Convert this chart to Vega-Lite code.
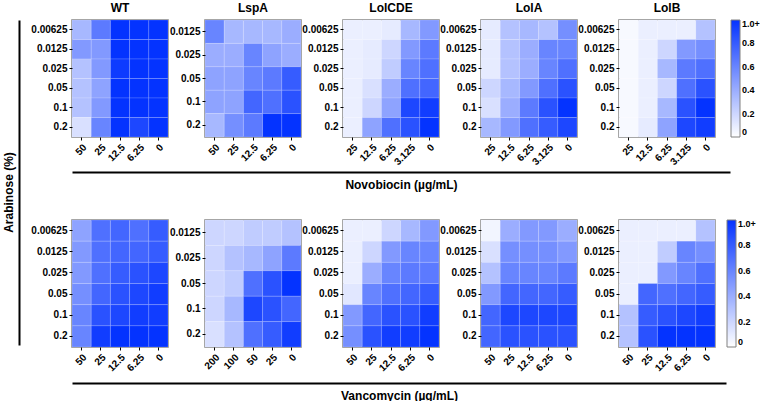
{
  "$schema": "https://vega.github.io/schema/vega-lite/v6.json",
  "padding": {"left": 2, "top": 1, "right": 0, "bottom": 0},
  "background": "white",
  "config": {
    "font": "Liberation Sans",
    "view": {"stroke": "#808080", "strokeWidth": 1.5},
    "title": {"font": "Liberation Sans", "fontSize": 12, "fontWeight": "bold", "color": "black", "offset": 5},
    "axis": {"labelFont": "Liberation Sans", "labelFontWeight": "bold", "labelFontSize": 10, "labelColor": "black", "tickColor": "black", "tickSize": 3, "domain": false, "grid": false, "labelPadding": 2, "titleFont": "Liberation Sans", "titleColor": "black"},
    "axisX": {"labelAngle": -45},
    "legend": {"gradientThickness": 9, "labelFont": "Liberation Sans", "labelFontSize": 9, "labelFontWeight": "bold", "labelColor": "black", "labelBaseline": "middle", "labelOffset": 3, "gradientStrokeColor": "#808080", "gradientStrokeWidth": 1, "padding": 0, "offset": 1, "titlePadding": 0}
  },
  "datasets": {
    "d": [
      {"strain":"WT","drug":"Novobiocin","arabinose":"0.00625","conc":"50","value":0.35},
      {"strain":"WT","drug":"Novobiocin","arabinose":"0.00625","conc":"25","value":0.65},
      {"strain":"WT","drug":"Novobiocin","arabinose":"0.00625","conc":"12.5","value":1.0},
      {"strain":"WT","drug":"Novobiocin","arabinose":"0.00625","conc":"6.25","value":1.0},
      {"strain":"WT","drug":"Novobiocin","arabinose":"0.00625","conc":"0","value":1.0},
      {"strain":"WT","drug":"Novobiocin","arabinose":"0.0125","conc":"50","value":0.5},
      {"strain":"WT","drug":"Novobiocin","arabinose":"0.0125","conc":"25","value":0.5},
      {"strain":"WT","drug":"Novobiocin","arabinose":"0.0125","conc":"12.5","value":1.0},
      {"strain":"WT","drug":"Novobiocin","arabinose":"0.0125","conc":"6.25","value":1.0},
      {"strain":"WT","drug":"Novobiocin","arabinose":"0.0125","conc":"0","value":1.0},
      {"strain":"WT","drug":"Novobiocin","arabinose":"0.025","conc":"50","value":0.3},
      {"strain":"WT","drug":"Novobiocin","arabinose":"0.025","conc":"25","value":0.5},
      {"strain":"WT","drug":"Novobiocin","arabinose":"0.025","conc":"12.5","value":0.96},
      {"strain":"WT","drug":"Novobiocin","arabinose":"0.025","conc":"6.25","value":1.0},
      {"strain":"WT","drug":"Novobiocin","arabinose":"0.025","conc":"0","value":1.0},
      {"strain":"WT","drug":"Novobiocin","arabinose":"0.05","conc":"50","value":0.3},
      {"strain":"WT","drug":"Novobiocin","arabinose":"0.05","conc":"25","value":0.45},
      {"strain":"WT","drug":"Novobiocin","arabinose":"0.05","conc":"12.5","value":1.0},
      {"strain":"WT","drug":"Novobiocin","arabinose":"0.05","conc":"6.25","value":1.0},
      {"strain":"WT","drug":"Novobiocin","arabinose":"0.05","conc":"0","value":1.0},
      {"strain":"WT","drug":"Novobiocin","arabinose":"0.1","conc":"50","value":0.3},
      {"strain":"WT","drug":"Novobiocin","arabinose":"0.1","conc":"25","value":0.5},
      {"strain":"WT","drug":"Novobiocin","arabinose":"0.1","conc":"12.5","value":1.0},
      {"strain":"WT","drug":"Novobiocin","arabinose":"0.1","conc":"6.25","value":1.0},
      {"strain":"WT","drug":"Novobiocin","arabinose":"0.1","conc":"0","value":1.0},
      {"strain":"WT","drug":"Novobiocin","arabinose":"0.2","conc":"50","value":0.15},
      {"strain":"WT","drug":"Novobiocin","arabinose":"0.2","conc":"25","value":0.6},
      {"strain":"WT","drug":"Novobiocin","arabinose":"0.2","conc":"12.5","value":1.0},
      {"strain":"WT","drug":"Novobiocin","arabinose":"0.2","conc":"6.25","value":0.9},
      {"strain":"WT","drug":"Novobiocin","arabinose":"0.2","conc":"0","value":1.0},

      {"strain":"LspA","drug":"Novobiocin","arabinose":"0.0125","conc":"50","value":0.6},
      {"strain":"LspA","drug":"Novobiocin","arabinose":"0.0125","conc":"25","value":0.35},
      {"strain":"LspA","drug":"Novobiocin","arabinose":"0.0125","conc":"12.5","value":0.35},
      {"strain":"LspA","drug":"Novobiocin","arabinose":"0.0125","conc":"6.25","value":0.35},
      {"strain":"LspA","drug":"Novobiocin","arabinose":"0.0125","conc":"0","value":0.4},
      {"strain":"LspA","drug":"Novobiocin","arabinose":"0.025","conc":"50","value":0.4},
      {"strain":"LspA","drug":"Novobiocin","arabinose":"0.025","conc":"25","value":0.4},
      {"strain":"LspA","drug":"Novobiocin","arabinose":"0.025","conc":"12.5","value":0.6},
      {"strain":"LspA","drug":"Novobiocin","arabinose":"0.025","conc":"6.25","value":0.45},
      {"strain":"LspA","drug":"Novobiocin","arabinose":"0.025","conc":"0","value":0.4},
      {"strain":"LspA","drug":"Novobiocin","arabinose":"0.05","conc":"50","value":0.45},
      {"strain":"LspA","drug":"Novobiocin","arabinose":"0.05","conc":"25","value":0.45},
      {"strain":"LspA","drug":"Novobiocin","arabinose":"0.05","conc":"12.5","value":0.6},
      {"strain":"LspA","drug":"Novobiocin","arabinose":"0.05","conc":"6.25","value":0.65},
      {"strain":"LspA","drug":"Novobiocin","arabinose":"0.05","conc":"0","value":0.8},
      {"strain":"LspA","drug":"Novobiocin","arabinose":"0.1","conc":"50","value":0.45},
      {"strain":"LspA","drug":"Novobiocin","arabinose":"0.1","conc":"25","value":0.45},
      {"strain":"LspA","drug":"Novobiocin","arabinose":"0.1","conc":"12.5","value":0.75},
      {"strain":"LspA","drug":"Novobiocin","arabinose":"0.1","conc":"6.25","value":0.7},
      {"strain":"LspA","drug":"Novobiocin","arabinose":"0.1","conc":"0","value":0.85},
      {"strain":"LspA","drug":"Novobiocin","arabinose":"0.2","conc":"50","value":0.35},
      {"strain":"LspA","drug":"Novobiocin","arabinose":"0.2","conc":"25","value":0.55},
      {"strain":"LspA","drug":"Novobiocin","arabinose":"0.2","conc":"12.5","value":0.65},
      {"strain":"LspA","drug":"Novobiocin","arabinose":"0.2","conc":"6.25","value":1.0},
      {"strain":"LspA","drug":"Novobiocin","arabinose":"0.2","conc":"0","value":1.0},

      {"strain":"LolCDE","drug":"Novobiocin","arabinose":"0.00625","conc":"25","value":0.08},
      {"strain":"LolCDE","drug":"Novobiocin","arabinose":"0.00625","conc":"12.5","value":0.08},
      {"strain":"LolCDE","drug":"Novobiocin","arabinose":"0.00625","conc":"6.25","value":0.1},
      {"strain":"LolCDE","drug":"Novobiocin","arabinose":"0.00625","conc":"3.125","value":0.35},
      {"strain":"LolCDE","drug":"Novobiocin","arabinose":"0.00625","conc":"0","value":0.5},
      {"strain":"LolCDE","drug":"Novobiocin","arabinose":"0.0125","conc":"25","value":0.08},
      {"strain":"LolCDE","drug":"Novobiocin","arabinose":"0.0125","conc":"12.5","value":0.1},
      {"strain":"LolCDE","drug":"Novobiocin","arabinose":"0.0125","conc":"6.25","value":0.2},
      {"strain":"LolCDE","drug":"Novobiocin","arabinose":"0.0125","conc":"3.125","value":0.5},
      {"strain":"LolCDE","drug":"Novobiocin","arabinose":"0.0125","conc":"0","value":0.65},
      {"strain":"LolCDE","drug":"Novobiocin","arabinose":"0.025","conc":"25","value":0.08},
      {"strain":"LolCDE","drug":"Novobiocin","arabinose":"0.025","conc":"12.5","value":0.1},
      {"strain":"LolCDE","drug":"Novobiocin","arabinose":"0.025","conc":"6.25","value":0.25},
      {"strain":"LolCDE","drug":"Novobiocin","arabinose":"0.025","conc":"3.125","value":0.6},
      {"strain":"LolCDE","drug":"Novobiocin","arabinose":"0.025","conc":"0","value":0.7},
      {"strain":"LolCDE","drug":"Novobiocin","arabinose":"0.05","conc":"25","value":0.08},
      {"strain":"LolCDE","drug":"Novobiocin","arabinose":"0.05","conc":"12.5","value":0.15},
      {"strain":"LolCDE","drug":"Novobiocin","arabinose":"0.05","conc":"6.25","value":0.4},
      {"strain":"LolCDE","drug":"Novobiocin","arabinose":"0.05","conc":"3.125","value":0.7},
      {"strain":"LolCDE","drug":"Novobiocin","arabinose":"0.05","conc":"0","value":0.75},
      {"strain":"LolCDE","drug":"Novobiocin","arabinose":"0.1","conc":"25","value":0.08},
      {"strain":"LolCDE","drug":"Novobiocin","arabinose":"0.1","conc":"12.5","value":0.2},
      {"strain":"LolCDE","drug":"Novobiocin","arabinose":"0.1","conc":"6.25","value":0.45},
      {"strain":"LolCDE","drug":"Novobiocin","arabinose":"0.1","conc":"3.125","value":0.9},
      {"strain":"LolCDE","drug":"Novobiocin","arabinose":"0.1","conc":"0","value":0.95},
      {"strain":"LolCDE","drug":"Novobiocin","arabinose":"0.2","conc":"25","value":0.08},
      {"strain":"LolCDE","drug":"Novobiocin","arabinose":"0.2","conc":"12.5","value":0.45},
      {"strain":"LolCDE","drug":"Novobiocin","arabinose":"0.2","conc":"6.25","value":0.7},
      {"strain":"LolCDE","drug":"Novobiocin","arabinose":"0.2","conc":"3.125","value":0.85},
      {"strain":"LolCDE","drug":"Novobiocin","arabinose":"0.2","conc":"0","value":1.0},

      {"strain":"LolA","drug":"Novobiocin","arabinose":"0.00625","conc":"25","value":0.1},
      {"strain":"LolA","drug":"Novobiocin","arabinose":"0.00625","conc":"12.5","value":0.3},
      {"strain":"LolA","drug":"Novobiocin","arabinose":"0.00625","conc":"6.25","value":0.35},
      {"strain":"LolA","drug":"Novobiocin","arabinose":"0.00625","conc":"3.125","value":0.3},
      {"strain":"LolA","drug":"Novobiocin","arabinose":"0.00625","conc":"0","value":0.55},
      {"strain":"LolA","drug":"Novobiocin","arabinose":"0.0125","conc":"25","value":0.1},
      {"strain":"LolA","drug":"Novobiocin","arabinose":"0.0125","conc":"12.5","value":0.3},
      {"strain":"LolA","drug":"Novobiocin","arabinose":"0.0125","conc":"6.25","value":0.4},
      {"strain":"LolA","drug":"Novobiocin","arabinose":"0.0125","conc":"3.125","value":0.6},
      {"strain":"LolA","drug":"Novobiocin","arabinose":"0.0125","conc":"0","value":0.6},
      {"strain":"LolA","drug":"Novobiocin","arabinose":"0.025","conc":"25","value":0.1},
      {"strain":"LolA","drug":"Novobiocin","arabinose":"0.025","conc":"12.5","value":0.3},
      {"strain":"LolA","drug":"Novobiocin","arabinose":"0.025","conc":"6.25","value":0.4},
      {"strain":"LolA","drug":"Novobiocin","arabinose":"0.025","conc":"3.125","value":0.6},
      {"strain":"LolA","drug":"Novobiocin","arabinose":"0.025","conc":"0","value":0.7},
      {"strain":"LolA","drug":"Novobiocin","arabinose":"0.05","conc":"25","value":0.2},
      {"strain":"LolA","drug":"Novobiocin","arabinose":"0.05","conc":"12.5","value":0.35},
      {"strain":"LolA","drug":"Novobiocin","arabinose":"0.05","conc":"6.25","value":0.5},
      {"strain":"LolA","drug":"Novobiocin","arabinose":"0.05","conc":"3.125","value":0.7},
      {"strain":"LolA","drug":"Novobiocin","arabinose":"0.05","conc":"0","value":0.85},
      {"strain":"LolA","drug":"Novobiocin","arabinose":"0.1","conc":"25","value":0.15},
      {"strain":"LolA","drug":"Novobiocin","arabinose":"0.1","conc":"12.5","value":0.4},
      {"strain":"LolA","drug":"Novobiocin","arabinose":"0.1","conc":"6.25","value":0.65},
      {"strain":"LolA","drug":"Novobiocin","arabinose":"0.1","conc":"3.125","value":0.85},
      {"strain":"LolA","drug":"Novobiocin","arabinose":"0.1","conc":"0","value":1.0},
      {"strain":"LolA","drug":"Novobiocin","arabinose":"0.2","conc":"25","value":0.35},
      {"strain":"LolA","drug":"Novobiocin","arabinose":"0.2","conc":"12.5","value":0.5},
      {"strain":"LolA","drug":"Novobiocin","arabinose":"0.2","conc":"6.25","value":0.7},
      {"strain":"LolA","drug":"Novobiocin","arabinose":"0.2","conc":"3.125","value":0.8},
      {"strain":"LolA","drug":"Novobiocin","arabinose":"0.2","conc":"0","value":0.9},

      {"strain":"LolB","drug":"Novobiocin","arabinose":"0.00625","conc":"25","value":0.03},
      {"strain":"LolB","drug":"Novobiocin","arabinose":"0.00625","conc":"12.5","value":0.08},
      {"strain":"LolB","drug":"Novobiocin","arabinose":"0.00625","conc":"6.25","value":0.08},
      {"strain":"LolB","drug":"Novobiocin","arabinose":"0.00625","conc":"3.125","value":0.08},
      {"strain":"LolB","drug":"Novobiocin","arabinose":"0.00625","conc":"0","value":0.3},
      {"strain":"LolB","drug":"Novobiocin","arabinose":"0.0125","conc":"25","value":0.03},
      {"strain":"LolB","drug":"Novobiocin","arabinose":"0.0125","conc":"12.5","value":0.08},
      {"strain":"LolB","drug":"Novobiocin","arabinose":"0.0125","conc":"6.25","value":0.2},
      {"strain":"LolB","drug":"Novobiocin","arabinose":"0.0125","conc":"3.125","value":0.5},
      {"strain":"LolB","drug":"Novobiocin","arabinose":"0.0125","conc":"0","value":0.55},
      {"strain":"LolB","drug":"Novobiocin","arabinose":"0.025","conc":"25","value":0.03},
      {"strain":"LolB","drug":"Novobiocin","arabinose":"0.025","conc":"12.5","value":0.08},
      {"strain":"LolB","drug":"Novobiocin","arabinose":"0.025","conc":"6.25","value":0.35},
      {"strain":"LolB","drug":"Novobiocin","arabinose":"0.025","conc":"3.125","value":0.65},
      {"strain":"LolB","drug":"Novobiocin","arabinose":"0.025","conc":"0","value":0.7},
      {"strain":"LolB","drug":"Novobiocin","arabinose":"0.05","conc":"25","value":0.03},
      {"strain":"LolB","drug":"Novobiocin","arabinose":"0.05","conc":"12.5","value":0.08},
      {"strain":"LolB","drug":"Novobiocin","arabinose":"0.05","conc":"6.25","value":0.2},
      {"strain":"LolB","drug":"Novobiocin","arabinose":"0.05","conc":"3.125","value":0.7},
      {"strain":"LolB","drug":"Novobiocin","arabinose":"0.05","conc":"0","value":0.85},
      {"strain":"LolB","drug":"Novobiocin","arabinose":"0.1","conc":"25","value":0.03},
      {"strain":"LolB","drug":"Novobiocin","arabinose":"0.1","conc":"12.5","value":0.08},
      {"strain":"LolB","drug":"Novobiocin","arabinose":"0.1","conc":"6.25","value":0.35},
      {"strain":"LolB","drug":"Novobiocin","arabinose":"0.1","conc":"3.125","value":0.85},
      {"strain":"LolB","drug":"Novobiocin","arabinose":"0.1","conc":"0","value":1.0},
      {"strain":"LolB","drug":"Novobiocin","arabinose":"0.2","conc":"25","value":0.03},
      {"strain":"LolB","drug":"Novobiocin","arabinose":"0.2","conc":"12.5","value":0.1},
      {"strain":"LolB","drug":"Novobiocin","arabinose":"0.2","conc":"6.25","value":0.45},
      {"strain":"LolB","drug":"Novobiocin","arabinose":"0.2","conc":"3.125","value":0.9},
      {"strain":"LolB","drug":"Novobiocin","arabinose":"0.2","conc":"0","value":0.95},

      {"strain":"WT","drug":"Vancomycin","arabinose":"0.00625","conc":"50","value":0.45},
      {"strain":"WT","drug":"Vancomycin","arabinose":"0.00625","conc":"25","value":0.7},
      {"strain":"WT","drug":"Vancomycin","arabinose":"0.00625","conc":"12.5","value":0.75},
      {"strain":"WT","drug":"Vancomycin","arabinose":"0.00625","conc":"6.25","value":0.7},
      {"strain":"WT","drug":"Vancomycin","arabinose":"0.00625","conc":"0","value":0.8},
      {"strain":"WT","drug":"Vancomycin","arabinose":"0.0125","conc":"50","value":0.5},
      {"strain":"WT","drug":"Vancomycin","arabinose":"0.0125","conc":"25","value":0.7},
      {"strain":"WT","drug":"Vancomycin","arabinose":"0.0125","conc":"12.5","value":0.75},
      {"strain":"WT","drug":"Vancomycin","arabinose":"0.0125","conc":"6.25","value":0.75},
      {"strain":"WT","drug":"Vancomycin","arabinose":"0.0125","conc":"0","value":0.8},
      {"strain":"WT","drug":"Vancomycin","arabinose":"0.025","conc":"50","value":0.5},
      {"strain":"WT","drug":"Vancomycin","arabinose":"0.025","conc":"25","value":0.7},
      {"strain":"WT","drug":"Vancomycin","arabinose":"0.025","conc":"12.5","value":0.8},
      {"strain":"WT","drug":"Vancomycin","arabinose":"0.025","conc":"6.25","value":0.85},
      {"strain":"WT","drug":"Vancomycin","arabinose":"0.025","conc":"0","value":0.9},
      {"strain":"WT","drug":"Vancomycin","arabinose":"0.05","conc":"50","value":0.55},
      {"strain":"WT","drug":"Vancomycin","arabinose":"0.05","conc":"25","value":0.75},
      {"strain":"WT","drug":"Vancomycin","arabinose":"0.05","conc":"12.5","value":0.85},
      {"strain":"WT","drug":"Vancomycin","arabinose":"0.05","conc":"6.25","value":0.9},
      {"strain":"WT","drug":"Vancomycin","arabinose":"0.05","conc":"0","value":0.95},
      {"strain":"WT","drug":"Vancomycin","arabinose":"0.1","conc":"50","value":0.6},
      {"strain":"WT","drug":"Vancomycin","arabinose":"0.1","conc":"25","value":0.85},
      {"strain":"WT","drug":"Vancomycin","arabinose":"0.1","conc":"12.5","value":0.9},
      {"strain":"WT","drug":"Vancomycin","arabinose":"0.1","conc":"6.25","value":0.95},
      {"strain":"WT","drug":"Vancomycin","arabinose":"0.1","conc":"0","value":0.95},
      {"strain":"WT","drug":"Vancomycin","arabinose":"0.2","conc":"50","value":0.6},
      {"strain":"WT","drug":"Vancomycin","arabinose":"0.2","conc":"25","value":0.95},
      {"strain":"WT","drug":"Vancomycin","arabinose":"0.2","conc":"12.5","value":1.0},
      {"strain":"WT","drug":"Vancomycin","arabinose":"0.2","conc":"6.25","value":1.0},
      {"strain":"WT","drug":"Vancomycin","arabinose":"0.2","conc":"0","value":1.0},

      {"strain":"LspA","drug":"Vancomycin","arabinose":"0.0125","conc":"200","value":0.2},
      {"strain":"LspA","drug":"Vancomycin","arabinose":"0.0125","conc":"100","value":0.2},
      {"strain":"LspA","drug":"Vancomycin","arabinose":"0.0125","conc":"50","value":0.25},
      {"strain":"LspA","drug":"Vancomycin","arabinose":"0.0125","conc":"25","value":0.25},
      {"strain":"LspA","drug":"Vancomycin","arabinose":"0.0125","conc":"0","value":0.3},
      {"strain":"LspA","drug":"Vancomycin","arabinose":"0.025","conc":"200","value":0.2},
      {"strain":"LspA","drug":"Vancomycin","arabinose":"0.025","conc":"100","value":0.3},
      {"strain":"LspA","drug":"Vancomycin","arabinose":"0.025","conc":"50","value":0.35},
      {"strain":"LspA","drug":"Vancomycin","arabinose":"0.025","conc":"25","value":0.45},
      {"strain":"LspA","drug":"Vancomycin","arabinose":"0.025","conc":"0","value":0.65},
      {"strain":"LspA","drug":"Vancomycin","arabinose":"0.05","conc":"200","value":0.2},
      {"strain":"LspA","drug":"Vancomycin","arabinose":"0.05","conc":"100","value":0.25},
      {"strain":"LspA","drug":"Vancomycin","arabinose":"0.05","conc":"50","value":0.7},
      {"strain":"LspA","drug":"Vancomycin","arabinose":"0.05","conc":"25","value":0.85},
      {"strain":"LspA","drug":"Vancomycin","arabinose":"0.05","conc":"0","value":1.0},
      {"strain":"LspA","drug":"Vancomycin","arabinose":"0.1","conc":"200","value":0.2},
      {"strain":"LspA","drug":"Vancomycin","arabinose":"0.1","conc":"100","value":0.35},
      {"strain":"LspA","drug":"Vancomycin","arabinose":"0.1","conc":"50","value":0.9},
      {"strain":"LspA","drug":"Vancomycin","arabinose":"0.1","conc":"25","value":0.85},
      {"strain":"LspA","drug":"Vancomycin","arabinose":"0.1","conc":"0","value":0.75},
      {"strain":"LspA","drug":"Vancomycin","arabinose":"0.2","conc":"200","value":0.15},
      {"strain":"LspA","drug":"Vancomycin","arabinose":"0.2","conc":"100","value":0.3},
      {"strain":"LspA","drug":"Vancomycin","arabinose":"0.2","conc":"50","value":0.7},
      {"strain":"LspA","drug":"Vancomycin","arabinose":"0.2","conc":"25","value":0.8},
      {"strain":"LspA","drug":"Vancomycin","arabinose":"0.2","conc":"0","value":0.95},

      {"strain":"LolCDE","drug":"Vancomycin","arabinose":"0.00625","conc":"50","value":0.08},
      {"strain":"LolCDE","drug":"Vancomycin","arabinose":"0.00625","conc":"25","value":0.08},
      {"strain":"LolCDE","drug":"Vancomycin","arabinose":"0.00625","conc":"12.5","value":0.2},
      {"strain":"LolCDE","drug":"Vancomycin","arabinose":"0.00625","conc":"6.25","value":0.35},
      {"strain":"LolCDE","drug":"Vancomycin","arabinose":"0.00625","conc":"0","value":0.5},
      {"strain":"LolCDE","drug":"Vancomycin","arabinose":"0.0125","conc":"50","value":0.08},
      {"strain":"LolCDE","drug":"Vancomycin","arabinose":"0.0125","conc":"25","value":0.2},
      {"strain":"LolCDE","drug":"Vancomycin","arabinose":"0.0125","conc":"12.5","value":0.5},
      {"strain":"LolCDE","drug":"Vancomycin","arabinose":"0.0125","conc":"6.25","value":0.6},
      {"strain":"LolCDE","drug":"Vancomycin","arabinose":"0.0125","conc":"0","value":0.6},
      {"strain":"LolCDE","drug":"Vancomycin","arabinose":"0.025","conc":"50","value":0.08},
      {"strain":"LolCDE","drug":"Vancomycin","arabinose":"0.025","conc":"25","value":0.4},
      {"strain":"LolCDE","drug":"Vancomycin","arabinose":"0.025","conc":"12.5","value":0.6},
      {"strain":"LolCDE","drug":"Vancomycin","arabinose":"0.025","conc":"6.25","value":0.65},
      {"strain":"LolCDE","drug":"Vancomycin","arabinose":"0.025","conc":"0","value":0.65},
      {"strain":"LolCDE","drug":"Vancomycin","arabinose":"0.05","conc":"50","value":0.12},
      {"strain":"LolCDE","drug":"Vancomycin","arabinose":"0.05","conc":"25","value":0.6},
      {"strain":"LolCDE","drug":"Vancomycin","arabinose":"0.05","conc":"12.5","value":0.7},
      {"strain":"LolCDE","drug":"Vancomycin","arabinose":"0.05","conc":"6.25","value":0.75},
      {"strain":"LolCDE","drug":"Vancomycin","arabinose":"0.05","conc":"0","value":0.8},
      {"strain":"LolCDE","drug":"Vancomycin","arabinose":"0.1","conc":"50","value":0.5},
      {"strain":"LolCDE","drug":"Vancomycin","arabinose":"0.1","conc":"25","value":0.75},
      {"strain":"LolCDE","drug":"Vancomycin","arabinose":"0.1","conc":"12.5","value":0.85},
      {"strain":"LolCDE","drug":"Vancomycin","arabinose":"0.1","conc":"6.25","value":0.85},
      {"strain":"LolCDE","drug":"Vancomycin","arabinose":"0.1","conc":"0","value":0.95},
      {"strain":"LolCDE","drug":"Vancomycin","arabinose":"0.2","conc":"50","value":0.55},
      {"strain":"LolCDE","drug":"Vancomycin","arabinose":"0.2","conc":"25","value":0.85},
      {"strain":"LolCDE","drug":"Vancomycin","arabinose":"0.2","conc":"12.5","value":0.95},
      {"strain":"LolCDE","drug":"Vancomycin","arabinose":"0.2","conc":"6.25","value":0.95},
      {"strain":"LolCDE","drug":"Vancomycin","arabinose":"0.2","conc":"0","value":1.0},

      {"strain":"LolA","drug":"Vancomycin","arabinose":"0.00625","conc":"50","value":0.05},
      {"strain":"LolA","drug":"Vancomycin","arabinose":"0.00625","conc":"25","value":0.4},
      {"strain":"LolA","drug":"Vancomycin","arabinose":"0.00625","conc":"12.5","value":0.5},
      {"strain":"LolA","drug":"Vancomycin","arabinose":"0.00625","conc":"6.25","value":0.5},
      {"strain":"LolA","drug":"Vancomycin","arabinose":"0.00625","conc":"0","value":0.4},
      {"strain":"LolA","drug":"Vancomycin","arabinose":"0.0125","conc":"50","value":0.15},
      {"strain":"LolA","drug":"Vancomycin","arabinose":"0.0125","conc":"25","value":0.55},
      {"strain":"LolA","drug":"Vancomycin","arabinose":"0.0125","conc":"12.5","value":0.55},
      {"strain":"LolA","drug":"Vancomycin","arabinose":"0.0125","conc":"6.25","value":0.55},
      {"strain":"LolA","drug":"Vancomycin","arabinose":"0.0125","conc":"0","value":0.5},
      {"strain":"LolA","drug":"Vancomycin","arabinose":"0.025","conc":"50","value":0.3},
      {"strain":"LolA","drug":"Vancomycin","arabinose":"0.025","conc":"25","value":0.6},
      {"strain":"LolA","drug":"Vancomycin","arabinose":"0.025","conc":"12.5","value":0.6},
      {"strain":"LolA","drug":"Vancomycin","arabinose":"0.025","conc":"6.25","value":0.6},
      {"strain":"LolA","drug":"Vancomycin","arabinose":"0.025","conc":"0","value":0.65},
      {"strain":"LolA","drug":"Vancomycin","arabinose":"0.05","conc":"50","value":0.5},
      {"strain":"LolA","drug":"Vancomycin","arabinose":"0.05","conc":"25","value":0.75},
      {"strain":"LolA","drug":"Vancomycin","arabinose":"0.05","conc":"12.5","value":0.75},
      {"strain":"LolA","drug":"Vancomycin","arabinose":"0.05","conc":"6.25","value":0.75},
      {"strain":"LolA","drug":"Vancomycin","arabinose":"0.05","conc":"0","value":0.8},
      {"strain":"LolA","drug":"Vancomycin","arabinose":"0.1","conc":"50","value":0.75},
      {"strain":"LolA","drug":"Vancomycin","arabinose":"0.1","conc":"25","value":0.9},
      {"strain":"LolA","drug":"Vancomycin","arabinose":"0.1","conc":"12.5","value":0.9},
      {"strain":"LolA","drug":"Vancomycin","arabinose":"0.1","conc":"6.25","value":0.9},
      {"strain":"LolA","drug":"Vancomycin","arabinose":"0.1","conc":"0","value":0.9},
      {"strain":"LolA","drug":"Vancomycin","arabinose":"0.2","conc":"50","value":0.75},
      {"strain":"LolA","drug":"Vancomycin","arabinose":"0.2","conc":"25","value":0.85},
      {"strain":"LolA","drug":"Vancomycin","arabinose":"0.2","conc":"12.5","value":0.85},
      {"strain":"LolA","drug":"Vancomycin","arabinose":"0.2","conc":"6.25","value":0.85},
      {"strain":"LolA","drug":"Vancomycin","arabinose":"0.2","conc":"0","value":0.85},

      {"strain":"LolB","drug":"Vancomycin","arabinose":"0.00625","conc":"50","value":0.08},
      {"strain":"LolB","drug":"Vancomycin","arabinose":"0.00625","conc":"25","value":0.08},
      {"strain":"LolB","drug":"Vancomycin","arabinose":"0.00625","conc":"12.5","value":0.08},
      {"strain":"LolB","drug":"Vancomycin","arabinose":"0.00625","conc":"6.25","value":0.08},
      {"strain":"LolB","drug":"Vancomycin","arabinose":"0.00625","conc":"0","value":0.3},
      {"strain":"LolB","drug":"Vancomycin","arabinose":"0.0125","conc":"50","value":0.08},
      {"strain":"LolB","drug":"Vancomycin","arabinose":"0.0125","conc":"25","value":0.08},
      {"strain":"LolB","drug":"Vancomycin","arabinose":"0.0125","conc":"12.5","value":0.25},
      {"strain":"LolB","drug":"Vancomycin","arabinose":"0.0125","conc":"6.25","value":0.6},
      {"strain":"LolB","drug":"Vancomycin","arabinose":"0.0125","conc":"0","value":0.55},
      {"strain":"LolB","drug":"Vancomycin","arabinose":"0.025","conc":"50","value":0.08},
      {"strain":"LolB","drug":"Vancomycin","arabinose":"0.025","conc":"25","value":0.08},
      {"strain":"LolB","drug":"Vancomycin","arabinose":"0.025","conc":"12.5","value":0.5},
      {"strain":"LolB","drug":"Vancomycin","arabinose":"0.025","conc":"6.25","value":0.6},
      {"strain":"LolB","drug":"Vancomycin","arabinose":"0.025","conc":"0","value":0.7},
      {"strain":"LolB","drug":"Vancomycin","arabinose":"0.05","conc":"50","value":0.08},
      {"strain":"LolB","drug":"Vancomycin","arabinose":"0.05","conc":"25","value":0.75},
      {"strain":"LolB","drug":"Vancomycin","arabinose":"0.05","conc":"12.5","value":0.7},
      {"strain":"LolB","drug":"Vancomycin","arabinose":"0.05","conc":"6.25","value":0.75},
      {"strain":"LolB","drug":"Vancomycin","arabinose":"0.05","conc":"0","value":0.8},
      {"strain":"LolB","drug":"Vancomycin","arabinose":"0.1","conc":"50","value":0.3},
      {"strain":"LolB","drug":"Vancomycin","arabinose":"0.1","conc":"25","value":0.8},
      {"strain":"LolB","drug":"Vancomycin","arabinose":"0.1","conc":"12.5","value":0.85},
      {"strain":"LolB","drug":"Vancomycin","arabinose":"0.1","conc":"6.25","value":0.9},
      {"strain":"LolB","drug":"Vancomycin","arabinose":"0.1","conc":"0","value":0.95},
      {"strain":"LolB","drug":"Vancomycin","arabinose":"0.2","conc":"50","value":0.3},
      {"strain":"LolB","drug":"Vancomycin","arabinose":"0.2","conc":"25","value":0.85},
      {"strain":"LolB","drug":"Vancomycin","arabinose":"0.2","conc":"12.5","value":1.0},
      {"strain":"LolB","drug":"Vancomycin","arabinose":"0.2","conc":"6.25","value":1.0},
      {"strain":"LolB","drug":"Vancomycin","arabinose":"0.2","conc":"0","value":1.0}
    ]
  },
  "data": {"name": "d"},
  "spacing": 7,
  "hconcat": [
    {
      "width": 1,
      "height": 325,
      "view": {"stroke": null},
      "transform": [{"filter": "datum.drug == 'Novobiocin' && datum.strain == 'WT'"}],
      "mark": {"type": "point", "opacity": 0},
      "encoding": {
        "x": {"field": "strain", "type": "nominal", "axis": {"orient": "top", "labels": false, "ticks": true, "tickSize": 17, "tickOpacity": 0, "title": null}},
        "y": {"field": "arabinose", "type": "nominal", "axis": {"domain": true, "domainColor": "black", "domainWidth": 2, "labels": false, "ticks": false, "title": "Arabinose (%)", "titleFontSize": 12, "titleFontWeight": "bold", "titlePadding": 4, "titleY": 172}}
      }
    },
    {
      "spacing": 29,
      "resolve": {"scale": {"color": "independent"}},
      "vconcat": [
        {
          "spacing": 0,
          "vconcat": [
            {
              "spacing": -1,
              "hconcat": [
                {
                  "width": 96, "height": 117, "title": "WT",
                  "transform": [{"filter": "datum.strain == 'WT' && datum.drug == 'Novobiocin'"}],
                  "mark": {"type": "rect", "stroke": "white", "strokeWidth": 0.5, "strokeOpacity": 0.3},
                  "encoding": {
                    "x": {"field": "conc", "type": "nominal", "sort": ["50","25","12.5","6.25","0"], "axis": {"title": null}},
                    "y": {"field": "arabinose", "type": "nominal", "sort": ["0.00625","0.0125","0.025","0.05","0.1","0.2"], "axis": {"title": null}},
                    "color": {"field": "value", "type": "quantitative", "scale": {"domain": [0, 1], "range": ["#ffffff", "#0433ff"], "interpolate": "rgb", "clamp": true}, "legend": {"title": null, "values": [0, 0.2, 0.4, 0.6, 0.8, 1], "gradientLength": 117, "labelExpr": "datum.value >= 1 ? '1.0+' : datum.value == 0 ? '0' : format(datum.value, '.1f')"}}
                  }
                },
                {
                  "width": 96, "height": 117, "title": "LspA",
                  "transform": [{"filter": "datum.strain == 'LspA' && datum.drug == 'Novobiocin'"}],
                  "mark": {"type": "rect", "stroke": "white", "strokeWidth": 0.5, "strokeOpacity": 0.3},
                  "encoding": {
                    "x": {"field": "conc", "type": "nominal", "sort": ["50","25","12.5","6.25","0"], "axis": {"title": null}},
                    "y": {"field": "arabinose", "type": "nominal", "sort": ["0.0125","0.025","0.05","0.1","0.2"], "axis": {"title": null}},
                    "color": {"field": "value", "type": "quantitative", "scale": {"domain": [0, 1], "range": ["#ffffff", "#0433ff"], "interpolate": "rgb", "clamp": true}, "legend": {"title": null, "values": [0, 0.2, 0.4, 0.6, 0.8, 1], "gradientLength": 117, "labelExpr": "datum.value >= 1 ? '1.0+' : datum.value == 0 ? '0' : format(datum.value, '.1f')"}}
                  }
                },
                {
                  "width": 96, "height": 117, "title": "LolCDE",
                  "transform": [{"filter": "datum.strain == 'LolCDE' && datum.drug == 'Novobiocin'"}],
                  "mark": {"type": "rect", "stroke": "white", "strokeWidth": 0.5, "strokeOpacity": 0.3},
                  "encoding": {
                    "x": {"field": "conc", "type": "nominal", "sort": ["25","12.5","6.25","3.125","0"], "axis": {"title": null}},
                    "y": {"field": "arabinose", "type": "nominal", "sort": ["0.00625","0.0125","0.025","0.05","0.1","0.2"], "axis": {"title": null}},
                    "color": {"field": "value", "type": "quantitative", "scale": {"domain": [0, 1], "range": ["#ffffff", "#0433ff"], "interpolate": "rgb", "clamp": true}, "legend": {"title": null, "values": [0, 0.2, 0.4, 0.6, 0.8, 1], "gradientLength": 117, "labelExpr": "datum.value >= 1 ? '1.0+' : datum.value == 0 ? '0' : format(datum.value, '.1f')"}}
                  }
                },
                {
                  "width": 96, "height": 117, "title": "LolA",
                  "transform": [{"filter": "datum.strain == 'LolA' && datum.drug == 'Novobiocin'"}],
                  "mark": {"type": "rect", "stroke": "white", "strokeWidth": 0.5, "strokeOpacity": 0.3},
                  "encoding": {
                    "x": {"field": "conc", "type": "nominal", "sort": ["25","12.5","6.25","3.125","0"], "axis": {"title": null}},
                    "y": {"field": "arabinose", "type": "nominal", "sort": ["0.00625","0.0125","0.025","0.05","0.1","0.2"], "axis": {"title": null}},
                    "color": {"field": "value", "type": "quantitative", "scale": {"domain": [0, 1], "range": ["#ffffff", "#0433ff"], "interpolate": "rgb", "clamp": true}, "legend": {"title": null, "values": [0, 0.2, 0.4, 0.6, 0.8, 1], "gradientLength": 117, "labelExpr": "datum.value >= 1 ? '1.0+' : datum.value == 0 ? '0' : format(datum.value, '.1f')"}}
                  }
                },
                {
                  "width": 96, "height": 117, "title": "LolB",
                  "transform": [{"filter": "datum.strain == 'LolB' && datum.drug == 'Novobiocin'"}],
                  "mark": {"type": "rect", "stroke": "white", "strokeWidth": 0.5, "strokeOpacity": 0.3},
                  "encoding": {
                    "x": {"field": "conc", "type": "nominal", "sort": ["25","12.5","6.25","3.125","0"], "axis": {"title": null}},
                    "y": {"field": "arabinose", "type": "nominal", "sort": ["0.00625","0.0125","0.025","0.05","0.1","0.2"], "axis": {"title": null}},
                    "color": {"field": "value", "type": "quantitative", "scale": {"domain": [0, 1], "range": ["#ffffff", "#0433ff"], "interpolate": "rgb", "clamp": true}, "legend": {"title": null, "values": [0, 0.2, 0.4, 0.6, 0.8, 1], "gradientLength": 117, "labelExpr": "datum.value >= 1 ? '1.0+' : datum.value == 0 ? '0' : format(datum.value, '.1f')"}}
                  }
                }
              ]
            },
            {
              "width": 658,
              "height": 1,
              "view": {"stroke": null},
              "transform": [{"filter": "datum.drug == 'Novobiocin' && datum.strain == 'WT'"}],
              "mark": {"type": "point", "opacity": 0},
              "encoding": {
                "x": {"field": "conc", "type": "nominal", "axis": {"domain": true, "domainColor": "black", "domainWidth": 2, "labels": false, "ticks": false, "title": "Novobiocin (µg/mL)", "titleFontSize": 12, "titleFontWeight": "bold", "titlePadding": 7}},
                "y": {"field": "drug", "type": "nominal", "axis": {"labels": false, "ticks": true, "tickSize": 36, "tickOpacity": 0, "title": null}}
              }
            }
          ]
        },
        {
          "spacing": 1,
          "vconcat": [
            {
              "spacing": -1,
              "hconcat": [
                {
                  "width": 96, "height": 127,
                  "transform": [{"filter": "datum.strain == 'WT' && datum.drug == 'Vancomycin'"}],
                  "mark": {"type": "rect", "stroke": "white", "strokeWidth": 0.5, "strokeOpacity": 0.3},
                  "encoding": {
                    "x": {"field": "conc", "type": "nominal", "sort": ["50","25","12.5","6.25","0"], "axis": {"title": null}},
                    "y": {"field": "arabinose", "type": "nominal", "sort": ["0.00625","0.0125","0.025","0.05","0.1","0.2"], "axis": {"title": null}},
                    "color": {"field": "value", "type": "quantitative", "scale": {"domain": [0, 1], "range": ["#ffffff", "#0433ff"], "interpolate": "rgb", "clamp": true}, "legend": {"title": null, "values": [0, 0.2, 0.4, 0.6, 0.8, 1], "gradientLength": 127, "labelExpr": "datum.value >= 1 ? '1.0+' : datum.value == 0 ? '0' : format(datum.value, '.1f')"}}
                  }
                },
                {
                  "width": 96, "height": 127,
                  "transform": [{"filter": "datum.strain == 'LspA' && datum.drug == 'Vancomycin'"}],
                  "mark": {"type": "rect", "stroke": "white", "strokeWidth": 0.5, "strokeOpacity": 0.3},
                  "encoding": {
                    "x": {"field": "conc", "type": "nominal", "sort": ["200","100","50","25","0"], "axis": {"title": null}},
                    "y": {"field": "arabinose", "type": "nominal", "sort": ["0.0125","0.025","0.05","0.1","0.2"], "axis": {"title": null}},
                    "color": {"field": "value", "type": "quantitative", "scale": {"domain": [0, 1], "range": ["#ffffff", "#0433ff"], "interpolate": "rgb", "clamp": true}, "legend": {"title": null, "values": [0, 0.2, 0.4, 0.6, 0.8, 1], "gradientLength": 127, "labelExpr": "datum.value >= 1 ? '1.0+' : datum.value == 0 ? '0' : format(datum.value, '.1f')"}}
                  }
                },
                {
                  "width": 96, "height": 127,
                  "transform": [{"filter": "datum.strain == 'LolCDE' && datum.drug == 'Vancomycin'"}],
                  "mark": {"type": "rect", "stroke": "white", "strokeWidth": 0.5, "strokeOpacity": 0.3},
                  "encoding": {
                    "x": {"field": "conc", "type": "nominal", "sort": ["50","25","12.5","6.25","0"], "axis": {"title": null}},
                    "y": {"field": "arabinose", "type": "nominal", "sort": ["0.00625","0.0125","0.025","0.05","0.1","0.2"], "axis": {"title": null}},
                    "color": {"field": "value", "type": "quantitative", "scale": {"domain": [0, 1], "range": ["#ffffff", "#0433ff"], "interpolate": "rgb", "clamp": true}, "legend": {"title": null, "values": [0, 0.2, 0.4, 0.6, 0.8, 1], "gradientLength": 127, "labelExpr": "datum.value >= 1 ? '1.0+' : datum.value == 0 ? '0' : format(datum.value, '.1f')"}}
                  }
                },
                {
                  "width": 96, "height": 127,
                  "transform": [{"filter": "datum.strain == 'LolA' && datum.drug == 'Vancomycin'"}],
                  "mark": {"type": "rect", "stroke": "white", "strokeWidth": 0.5, "strokeOpacity": 0.3},
                  "encoding": {
                    "x": {"field": "conc", "type": "nominal", "sort": ["50","25","12.5","6.25","0"], "axis": {"title": null}},
                    "y": {"field": "arabinose", "type": "nominal", "sort": ["0.00625","0.0125","0.025","0.05","0.1","0.2"], "axis": {"title": null}},
                    "color": {"field": "value", "type": "quantitative", "scale": {"domain": [0, 1], "range": ["#ffffff", "#0433ff"], "interpolate": "rgb", "clamp": true}, "legend": {"title": null, "values": [0, 0.2, 0.4, 0.6, 0.8, 1], "gradientLength": 127, "labelExpr": "datum.value >= 1 ? '1.0+' : datum.value == 0 ? '0' : format(datum.value, '.1f')"}}
                  }
                },
                {
                  "width": 96, "height": 127,
                  "transform": [{"filter": "datum.strain == 'LolB' && datum.drug == 'Vancomycin'"}],
                  "mark": {"type": "rect", "stroke": "white", "strokeWidth": 0.5, "strokeOpacity": 0.3},
                  "encoding": {
                    "x": {"field": "conc", "type": "nominal", "sort": ["50","25","12.5","6.25","0"], "axis": {"title": null}},
                    "y": {"field": "arabinose", "type": "nominal", "sort": ["0.00625","0.0125","0.025","0.05","0.1","0.2"], "axis": {"title": null}},
                    "color": {"field": "value", "type": "quantitative", "scale": {"domain": [0, 1], "range": ["#ffffff", "#0433ff"], "interpolate": "rgb", "clamp": true}, "legend": {"title": null, "values": [0, 0.2, 0.4, 0.6, 0.8, 1], "gradientLength": 127, "labelExpr": "datum.value >= 1 ? '1.0+' : datum.value == 0 ? '0' : format(datum.value, '.1f')"}}
                  }
                }
              ]
            },
            {
              "width": 654,
              "height": 8,
              "view": {"stroke": null},
              "transform": [{"filter": "datum.drug == 'Vancomycin' && datum.strain == 'WT'"}],
              "mark": {"type": "point", "opacity": 0},
              "encoding": {
                "x": {"field": "conc", "type": "nominal", "axis": {"domain": true, "domainColor": "black", "domainWidth": 2, "labels": false, "ticks": false, "title": "Vancomycin (µg/mL)", "titleFontSize": 12, "titleFontWeight": "bold", "titlePadding": 7}},
                "y": {"field": "drug", "type": "nominal", "axis": {"labels": false, "ticks": true, "tickSize": 40, "tickOpacity": 0, "title": null}}
              }
            }
          ]
        }
      ]
    }
  ]
}
